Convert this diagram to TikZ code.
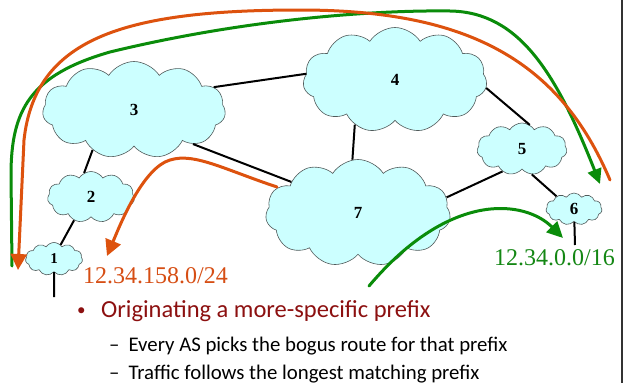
\documentclass[tikz,border=0pt]{standalone}
\usepackage{fontspec}
\setmainfont{Liberation Serif}
\newfontfamily\slidefont{Carlito}
\usetikzlibrary{shapes.symbols,arrows.meta}

\definecolor{cloudfill}{RGB}{204,255,255}
\definecolor{cloudline}{RGB}{80,90,90}
\definecolor{routeorange}{RGB}{221,82,14}
\definecolor{routegreen}{RGB}{10,140,10}
\definecolor{labelorange}{RGB}{214,78,20}
\definecolor{labelgreen}{RGB}{20,135,20}
\definecolor{bulletred}{RGB}{140,16,16}

\tikzset{
  as/.style={cloud, cloud puffs=11, cloud puff arc=115, cloud ignores aspect,
    draw=cloudline, line width=0.6pt, fill=cloudfill, inner sep=0pt,
    font=\fontsize{17}{19}\selectfont\bfseries},
  link/.style={black, line width=2pt},
  route/.style={line width=3pt, line cap=round},
  netlabel/.style={anchor=base west, inner sep=0pt, font=\fontsize{24}{28}\selectfont},
  toptext/.style={anchor=base west, inner sep=0pt, text=bulletred,
    font=\slidefont\fontsize{24.5}{28}\selectfont},
  subtext/.style={anchor=base west, inner sep=0pt, text=black,
    font=\slidefont\fontsize{20.8}{24}\selectfont},
}

\begin{document}
\begin{tikzpicture}[x=1pt,y=-1pt]
\useasboundingbox (0,0) rectangle (630,383);

% autonomous systems
\node[as, minimum width=183pt, minimum height=97pt]  (c3) at (134,110) {3};
\node[as, minimum width=184pt, minimum height=105pt] (c4) at (395,80)  {4};
\node[as, minimum width=90pt,  minimum height=52pt]  (c5) at (522,149) {5};
\node[as, minimum width=87pt,  minimum height=51pt]  (c2) at (91,197)  {2};
\node[as, minimum width=57pt,  minimum height=33pt, font=\fontsize{15}{17}\selectfont\bfseries] (c1) at (54,259) {1};
\node[as, minimum width=185pt, minimum height=107pt] (c7) at (358,213) {7};
\node[as, minimum width=56pt,  minimum height=32pt]  (c6) at (574,209) {6};

% peering links
\draw[link] (c3.16)  -- (c4.176);
\draw[link] (c3.330) -- (c7.155);
\draw[link] (c4.228) -- (c7.96);
\draw[link] (c4.355) -- (c5.72);
\draw[link] (c5.229) -- (c7.10);
\draw[link] (c5.291) -- (c6.144);
\draw[link] (c2.106) -- (c3.224);
\draw[link] (c1.65)  -- (c2.234);

% customer stubs
\coordinate (s1) at (54,297);
\coordinate (s6) at (575,245);
\draw[link] (c1) -- (s1);
\draw[link] (c6) -- (s6);

% prefixes
\node[netlabel, text=labelorange] (p24) at (83,283) {12.34.158.0/24};
\node[netlabel, text=labelgreen]  (p16) at (494,265) {12.34.0.0/16};

% legitimate route, AS 6 to AS 1
\coordinate (gA) at (12,266);
\coordinate (gB) at (600,184);
\draw[route, routegreen, -{Triangle[length=15pt,width=14pt]}]
  (gA) -- (11,175) .. controls (11,110) and (30,75) .. (110,52)
  .. controls (250,18) and (380,10) .. (450,11)
  .. controls (520,12) and (557,75) .. (gB);

% bogus route, AS 6 to AS 1
\coordinate (oA) at (610,180);
\coordinate (oB) at (18,270);
\draw[route, routeorange, -{Triangle[length=16pt,width=16pt]}]
  (oA) .. controls (560,62) and (470,10) .. (300,10)
  .. controls (120,10) and (35,40) .. (24,140)
  -- (oB);

% bogus announcement heading for AS 1
\coordinate (sA) at (277,187);
\coordinate (sB) at (107,256);
\draw[route, routeorange, -{Triangle[length=16pt,width=16pt]}]
  (sA) .. controls (220,168) and (190,150) .. (165,162)
  .. controls (140,175) and (120,225) .. (sB);

% traffic heading for AS 6
\coordinate (tA) at (369,286);
\coordinate (tB) at (563,238);
\draw[route, routegreen, -{Triangle[length=16pt,width=15pt]}]
  (tA) .. controls (450,190) and (525,200) .. (tB);

% slide text
\node[anchor=base west, inner sep=0pt, text=bulletred, font=\slidefont\fontsize{17}{20}\selectfont] (b0) at (77,315) {•};
\node[toptext] (t1) at (101,317) {Originating a more-specific prefix};
\node[subtext] (t2) at (109,351) {–\hspace{9pt}Every AS picks the bogus route for that prefix};
\node[subtext] (t3) at (109,379) {–\hspace{9pt}Traffic follows the longest matching prefix};

% frame edge
\coordinate (fr1) at (622,0);
\coordinate (fr2) at (622,383);
\draw[line width=1.5pt, black!80] (fr1) -- (fr2);
\end{tikzpicture}
\end{document}
